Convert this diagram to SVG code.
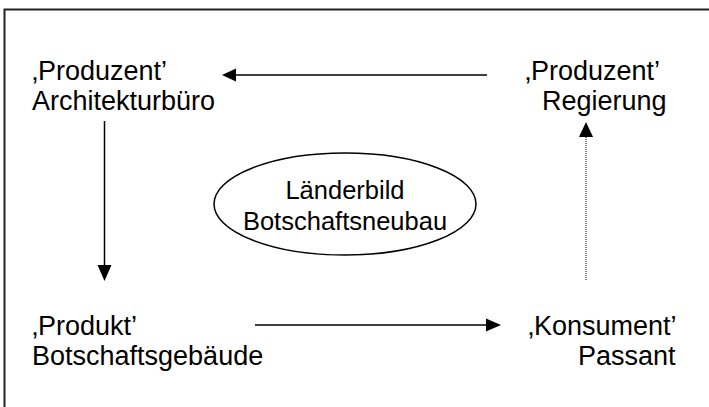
<svg xmlns="http://www.w3.org/2000/svg" width="709" height="407" viewBox="0 0 709 407">
<style>
text{font-family:"Liberation Sans",Arial,sans-serif;font-size:27px;fill:#000}
.e{font-size:25.5px;text-anchor:middle}
.c{stroke:#000;stroke-width:1.5;fill:none}
.d{stroke:#555;stroke-width:1.5;stroke-dasharray:1 1;fill:none}
</style>
<rect width="709" height="407" fill="#fff"/>
<rect x="4.5" y="9.5" width="730" height="430" fill="none" stroke="#222" stroke-width="2"/>
<g id="n1"><text x="32" y="80">‚Produzent’</text><text x="32" y="110">Architekturbüro</text></g>
<g id="n2"><text x="525" y="80">‚Produzent’</text><text x="542" y="110">Regierung</text></g>
<g id="n3"><text x="32" y="335">‚Produkt’</text><text x="32" y="365">Botschaftsgebäude</text></g>
<g id="n4"><text x="528" y="335">‚Konsument’</text><text x="578" y="365">Passant</text></g>
<g id="n5"><ellipse cx="345" cy="204" rx="131" ry="51" fill="none" stroke="#000" stroke-width="1.5"/><text class="e" x="345" y="199">Länderbild</text><text class="e" x="345" y="230">Botschaftsneubau</text></g>
<g id="connectors">
<line class="c" x1="487" y1="75" x2="234" y2="75"/><polygon points="222,75 236,68.5 236,81.5"/>
<line class="c" x1="104.5" y1="121" x2="104.5" y2="267"/><polygon points="104.5,281 97.5,265 111.5,265"/>
<line class="d" x1="586" y1="280" x2="586" y2="134"/><polygon points="586,122 579,137 593,137"/>
<line class="c" x1="255" y1="325" x2="488" y2="325"/><polygon points="501,325 486,318.5 486,331.5"/>
</g>
</svg>
